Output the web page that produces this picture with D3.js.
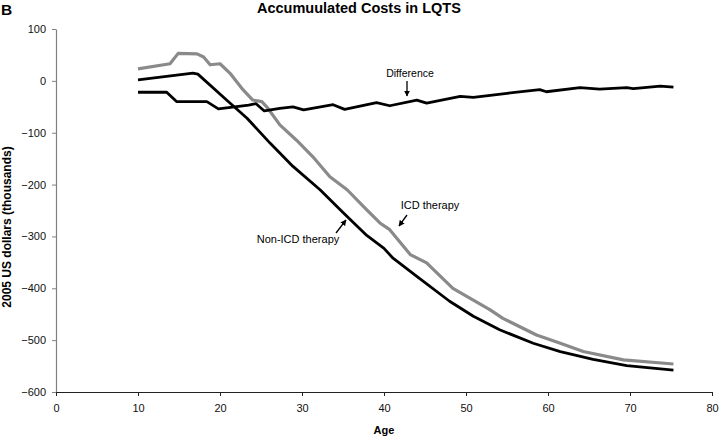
<!DOCTYPE html>
<html>
<head>
<meta charset="utf-8">
<script src="https://cdn.jsdelivr.net/npm/d3@7"></script>
<style>
  html, body { margin: 0; padding: 0; background: #fff; }
  svg { display: block; font-family: "Liberation Sans", Arial, sans-serif; }
</style>
</head>
<body>
<svg id="chart" width="720" height="438"></svg>
<script>
// ---- Data ----
const xTicks = [0, 10, 20, 30, 40, 50, 60, 70, 80];
const yTicks = [100, 0, -100, -200, -300, -400, -500, -600];

const icdAges = [10, 13.9, 14.9, 17.2, 18.0, 18.8, 20.0, 21.2, 22.8, 24.0, 25.1, 25.7, 27.3, 29.3, 31.3, 33.4, 35.5, 37.9, 39.5, 40.7, 43.2, 45.2, 48.4, 52.9, 54.5, 58.6, 61.5, 64.3, 69.2, 75.3];
const icdValues = [23, 33, 53, 52, 46, 31, 33, 15, -17, -37, -40, -50, -85, -114, -146, -185, -210, -249, -274, -287, -335, -351, -400, -441, -458, -490, -506, -522, -538, -546];

const nonIcdAges = [10, 16.7, 17.3, 20.8, 23.3, 26.1, 28.9, 32.2, 35.0, 37.9, 40.0, 41.1, 44.0, 48.0, 50.9, 54.1, 58.2, 61.5, 65.5, 69.6, 75.3];
const nonIcdValues = [2, 15, 13, -37, -72, -120, -165, -210, -254, -298, -323, -342, -377, -425, -454, -480, -506, -522, -537, -549, -558];

const diffAges = [10, 13.5, 14.7, 18.4, 19.8, 23.5, 24.4, 25.4, 27.3, 28.9, 30.2, 33.8, 35.2, 39.1, 40.7, 44.0, 45.2, 49.3, 50.9, 55.0, 59.0, 59.8, 63.9, 66.3, 69.6, 70.4, 73.7, 75.3];
const diffValues = [-22, -22, -40, -40, -54, -47, -44, -58, -53, -50, -56, -46, -55, -42, -48, -37, -43, -30, -32, -24, -17, -21, -13, -16, -13, -15, -10, -12];

// ---- Layout ----
const svg = d3.select("#chart");
const x = d3.scaleLinear().domain([0, 80]).range([56, 712]);
const y = d3.scaleLinear().domain([-600, 100]).range([392, 29]);

// arrow marker
svg.append("defs").append("marker")
  .attr("id", "arrow").attr("viewBox", "0 0 10 10")
  .attr("refX", 9).attr("refY", 5)
  .attr("markerWidth", 6).attr("markerHeight", 6)
  .attr("markerUnits", "userSpaceOnUse")
  .attr("orient", "auto")
  .append("path").attr("d", "M0,0 L10,5 L0,10 z").attr("fill", "#000");

// Axes
const yAxis = svg.append("g").attr("transform", "translate(56,0)")
  .call(d3.axisLeft(y).tickValues(yTicks).tickSize(4).tickSizeOuter(0).tickFormat(d3.format("d")));
yAxis.select(".domain").attr("stroke", "#808080").attr("stroke-width", 1.2);
yAxis.selectAll(".tick line").attr("stroke", "#808080");
yAxis.selectAll(".tick text").attr("font-size", 11).attr("fill", "#111").attr("x", -10);

const xAxis = svg.append("g").attr("transform", "translate(0,392)")
  .call(d3.axisBottom(x).tickValues(xTicks).tickSize(4).tickSizeOuter(0));
xAxis.select(".domain").attr("stroke", "#222").attr("stroke-width", 1.2);
xAxis.selectAll(".tick line").attr("stroke", "#222");
xAxis.selectAll(".tick text").attr("font-size", 11).attr("fill", "#111").attr("y", 12).attr("dy", "0.71em");

// Lines
const line = d3.line().x(d => x(d[0])).y(d => y(d[1]));
const zip = (a, b) => a.map((v, i) => [v, b[i]]);

svg.append("path").datum(zip(icdAges, icdValues))
  .attr("fill", "none").attr("stroke", "#8a8a8a").attr("stroke-width", 3.2)
  .attr("stroke-linejoin", "round").attr("d", line);
svg.append("path").datum(zip(nonIcdAges, nonIcdValues))
  .attr("fill", "none").attr("stroke", "#000").attr("stroke-width", 2.8)
  .attr("stroke-linejoin", "round").attr("d", line);
svg.append("path").datum(zip(diffAges, diffValues))
  .attr("fill", "none").attr("stroke", "#000").attr("stroke-width", 2.8)
  .attr("stroke-linejoin", "round").attr("d", line);

// Titles
svg.append("text").attr("x", 1).attr("y", 15).attr("font-size", 15.5).attr("font-weight", "bold").text("B");
svg.append("text").attr("x", 257).attr("y", 13).attr("text-anchor", "start")
  .attr("font-size", 14.5).attr("font-weight", "bold").text("Accumuulated Costs in LQTS");
svg.append("text").attr("x", 384).attr("y", 434).attr("text-anchor", "middle")
  .attr("font-size", 11).attr("font-weight", "bold").text("Age");
svg.append("text").attr("transform", "translate(11,227) rotate(-90)").attr("text-anchor", "middle")
  .attr("font-size", 12).attr("font-weight", "bold").text("2005 US dollars (thousands)");

// Annotations
svg.append("text").attr("x", 410).attr("y", 77).attr("text-anchor", "middle").attr("font-size", 10.5).text("Difference");
svg.append("line").attr("x1", 407).attr("y1", 81).attr("x2", 407).attr("y2", 96)
  .attr("stroke", "#000").attr("stroke-width", 1.3).attr("marker-end", "url(#arrow)");

svg.append("text").attr("x", 430).attr("y", 209).attr("text-anchor", "middle").attr("font-size", 11).text("ICD therapy");
svg.append("line").attr("x1", 407).attr("y1", 215).attr("x2", 399).attr("y2", 226)
  .attr("stroke", "#000").attr("stroke-width", 1.3).attr("marker-end", "url(#arrow)");

svg.append("text").attr("x", 298).attr("y", 243).attr("text-anchor", "middle").attr("font-size", 11).text("Non-ICD therapy");
svg.append("line").attr("x1", 336).attr("y1", 233).attr("x2", 346).attr("y2", 220)
  .attr("stroke", "#000").attr("stroke-width", 1.3).attr("marker-end", "url(#arrow)");
</script>
</body>
</html>
